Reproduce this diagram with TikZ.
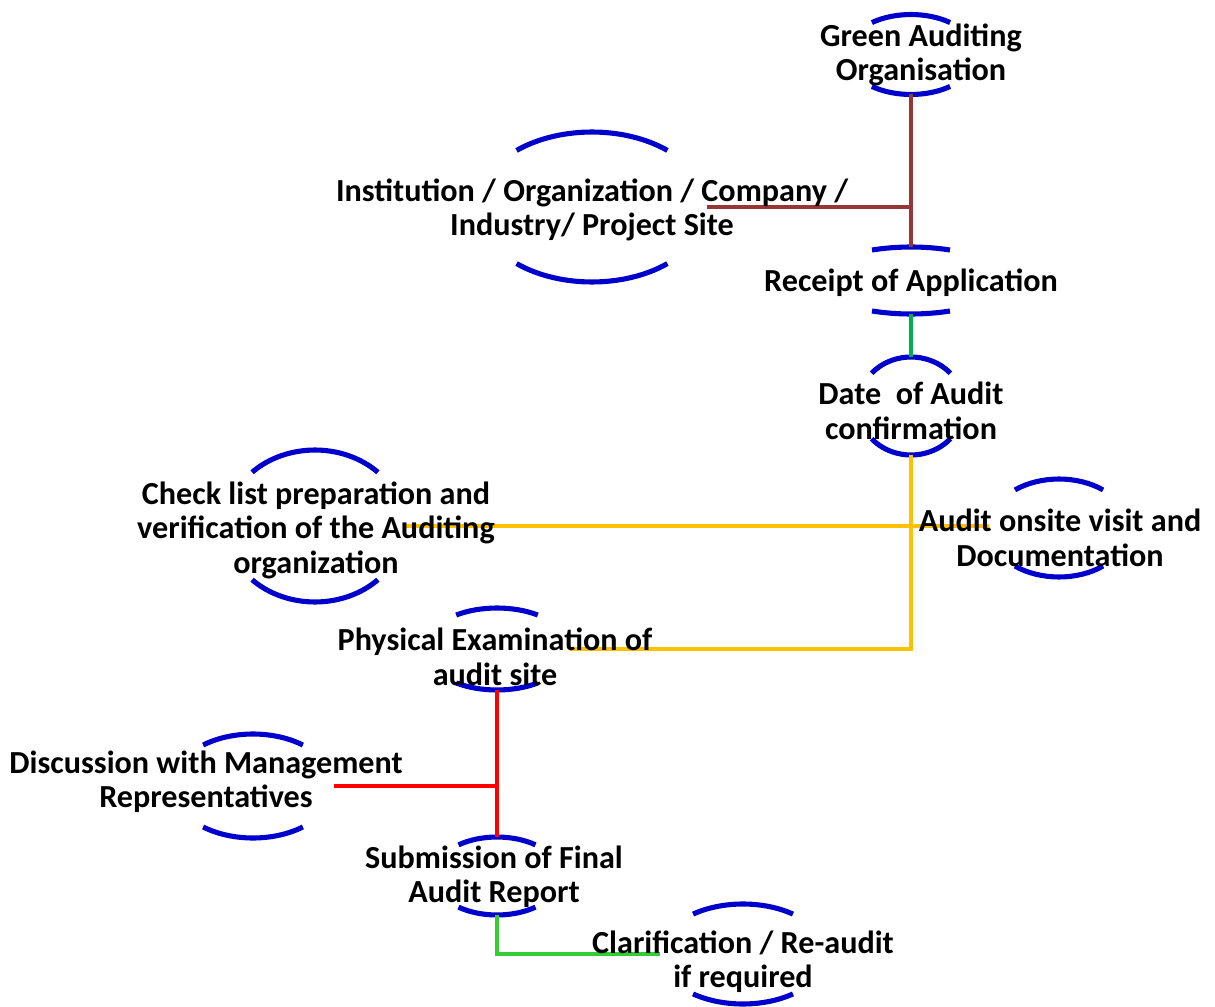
\documentclass[tikz,border=0pt]{standalone}
\usepackage{fontspec}
\setmainfont{Carlito}
\usetikzlibrary{shapes.geometric}
\usetikzlibrary{calc}
\definecolor{arcblue}{RGB}{0,0,204}
\definecolor{brownline}{RGB}{150,55,53}
\definecolor{greenline}{RGB}{0,176,80}
\definecolor{yellowline}{RGB}{255,192,0}
\definecolor{redline}{RGB}{255,0,0}
\definecolor{limeline}{RGB}{51,204,51}
\tikzstyle{stage}=[ellipse,inner sep=0pt,outer sep=0pt]
\tikzstyle{stagetext}=[align=center,inner sep=0pt,font=\bfseries\fontsize{18.3}{19.6}\selectfont]
\tikzstyle{rim}=[draw=arcblue,line width=2.9pt]
\tikzstyle{link}=[line width=2pt]
% top and bottom arcs of a stage: node, x radius, y radius, half span
\newcommand{\stagearcs}[4]{%
  \draw[rim] ([shift={(90+#4:#2 and #3)}]#1.center) arc[start angle=90+#4,end angle=90-#4,x radius=#2,y radius=#3];
  \draw[rim] ([shift={(270-#4:#2 and #3)}]#1.center) arc[start angle=270-#4,end angle=270+#4,x radius=#2,y radius=#3];
}
\begin{document}
\begin{tikzpicture}[x=0.02cm,y=-0.02cm]
\useasboundingbox (0,0) rectangle (1215,1007);
\node[stage,minimum width=2.6cm,minimum height=1.6cm] (green) at (911,54.5) {};
\node[stage,minimum width=4.6cm,minimum height=3cm] (inst) at (592,207) {};
\node[stage,minimum width=3.76cm,minimum height=1.34cm] (receipt) at (911,280.5) {};
\node[stage,minimum width=2.12cm,minimum height=1.96cm] (date) at (911,406) {};
\node[stage,minimum width=3.56cm,minimum height=3.04cm] (check) at (315,526) {};
\node[stage,minimum width=2.8cm,minimum height=1.96cm] (audit) at (1059,528) {};
\node[stage,minimum width=2.92cm,minimum height=1.64cm] (phys) at (497,649) {};
\node[stage,minimum width=3.24cm,minimum height=2.08cm] (disc) at (253,786) {};
\node[stage,minimum width=2.56cm,minimum height=1.56cm] (sub) at (497,876) {};
\node[stage,minimum width=3.32cm,minimum height=2cm] (clarif) at (743,954) {};
%arcs
\stagearcs{green}{1.3cm}{0.8cm}{37}
\stagearcs{inst}{2.3cm}{1.5cm}{41}
\stagearcs{receipt}{1.88cm}{0.67cm}{24.5}
\stagearcs{date}{1.06cm}{0.98cm}{48}
\stagearcs{check}{1.78cm}{1.52cm}{45}
\stagearcs{audit}{1.4cm}{0.98cm}{39}
\stagearcs{phys}{1.46cm}{0.82cm}{34}
\stagearcs{disc}{1.62cm}{1.04cm}{38}
\stagearcs{sub}{1.28cm}{0.78cm}{37}
\stagearcs{clarif}{1.66cm}{1cm}{37}
%links
\draw[link,brownline] (green.south) -- (receipt.north);
\draw[link,brownline] (inst.east) -- (inst.east -| green.south);
\draw[link,greenline] (receipt.south) -- (date.north);
\draw[link,yellowline] (date.south) |- (phys.east);
\draw[link,yellowline] (check.east) -- (check.east -| audit.west);
\draw[link,redline] (phys.south) -- (sub.north);
\draw[link,redline] (disc.east) -- (disc.east -| phys.south);
\draw[link,limeline] (sub.south) |- (clarif.west);
%texts
\node[stagetext] (greentxt) at (921,55) {Green Auditing\\Organisation};
\node[stagetext] (insttxt) at (592,210) {Institution / Organization / Company /\\Industry/ Project Site};
\node[stagetext] (receipttxt) at (911,283) {Receipt of Application};
\node[stagetext] (datetxt) at (911,411) {Date\ \ of Audit\\confirmation};
\node[stagetext] (checktxt) at (316,530) {Check list preparation and\\verification of the Auditing\\organization};
\node[stagetext] (audittxt) at (1060,538) {Audit onsite visit and\\Documentation};
\node[stagetext] (phystxt) at (495,657) {Physical Examination of\\audit site};
\node[stagetext] (disctxt) at (206,782) {Discussion with Management\\Representatives};
\node[stagetext] (subtxt) at (494,877) {Submission of Final\\Audit Report};
\node[stagetext] (clariftxt) at (743,962) {Clarification / Re-audit\\if required};
\end{tikzpicture}
\end{document}
